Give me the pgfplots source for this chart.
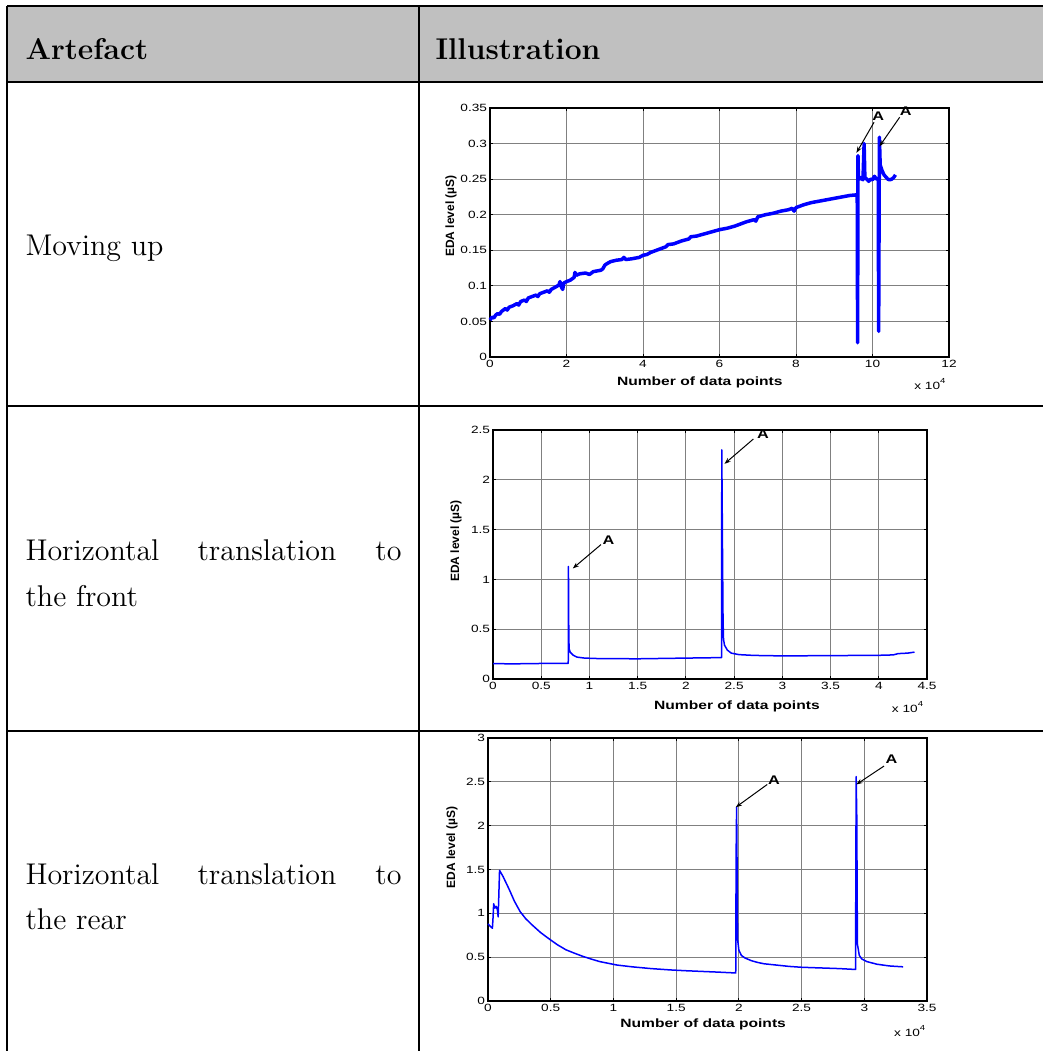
\documentclass[border=0pt]{standalone}
\usepackage{fontspec}
\usepackage{pgfplots}
\pgfplotsset{compat=1.18}
\usetikzlibrary{arrows.meta}
\newfontfamily\plotfont[FakeStretch=1.3]{Liberation Sans}
\newfontfamily\plotfontr{Liberation Sans}
\definecolor{hdr}{HTML}{C0C0C0}

\pgfplotstableread{
x y
0 0.052
0.05 0.056
0.1 0.055
0.15 0.059
0.2 0.061
0.25 0.060
0.3 0.064
0.4 0.068
0.45 0.066
0.5 0.070
0.6 0.072
0.7 0.075
0.75 0.073
0.8 0.078
0.9 0.080
0.95 0.078
1.0 0.083
1.1 0.085
1.2 0.087
1.25 0.085
1.3 0.089
1.4 0.091
1.5 0.093
1.55 0.091
1.6 0.095
1.7 0.098
1.8 0.101
1.83 0.106
1.87 0.098
1.9 0.095
1.93 0.104
2.0 0.106
2.1 0.108
2.15 0.110
2.2 0.112
2.22 0.119
2.26 0.115
2.35 0.117
2.5 0.118
2.6 0.116
2.7 0.120
2.9 0.122
2.95 0.124
3.0 0.129
3.05 0.131
3.15 0.134
3.3 0.136
3.45 0.137
3.5 0.140
3.55 0.137
3.7 0.138
3.9 0.140
4.0 0.143
4.1 0.144
4.2 0.147
4.4 0.151
4.6 0.155
4.65 0.158
4.8 0.159
5.0 0.163
5.2 0.166
5.25 0.169
5.4 0.170
5.6 0.173
5.8 0.176
6.0 0.179
6.2 0.181
6.4 0.184
6.5 0.186
6.7 0.190
6.9 0.193
6.95 0.191
7.0 0.197
7.2 0.200
7.4 0.202
7.6 0.205
7.8 0.207
7.9 0.209
7.95 0.205
8.0 0.210
8.2 0.214
8.4 0.217
8.6 0.219
8.8 0.221
9.0 0.223
9.2 0.225
9.4 0.227
9.6 0.228
9.61 0.020
9.62 0.283
9.63 0.255
9.66 0.250
9.7 0.252
9.75 0.249
9.78 0.300
9.8 0.252
9.85 0.250
9.9 0.247
9.95 0.250
10.0 0.249
10.05 0.254
10.1 0.250
10.15 0.251
10.16 0.036
10.18 0.309
10.2 0.270
10.25 0.262
10.3 0.256
10.35 0.253
10.4 0.250
10.45 0.249
10.5 0.250
10.55 0.252
10.6 0.256
}\dataA

\pgfplotstableread{
x y
0 0.155
0.2 0.152
0.4 0.155
0.6 0.157
0.78 0.158
0.782 1.13
0.786 0.40
0.79 0.30
0.8 0.27
0.83 0.24
0.87 0.22
0.95 0.21
1.1 0.205
1.5 0.203
2.0 0.21
2.37 0.215
2.372 2.30
2.378 1.50
2.38 1.22
2.385 0.60
2.39 0.40
2.40 0.34
2.43 0.29
2.47 0.26
2.55 0.245
2.7 0.237
3.0 0.232
3.5 0.235
4.0 0.238
4.15 0.242
4.2 0.255
4.3 0.26
4.37 0.27
}\dataB

\pgfplotstableread{
x y
0 0.88
0.02 0.85
0.035 0.83
0.04 0.95
0.045 1.11
0.055 1.06
0.065 1.08
0.075 1.04
0.081 0.96
0.085 1.15
0.092 1.49
0.12 1.42
0.17 1.27
0.21 1.14
0.256 1.02
0.3 0.94
0.35 0.87
0.42 0.78
0.486 0.71
0.55 0.645
0.62 0.585
0.69 0.545
0.755 0.51
0.82 0.48
0.89 0.45
0.96 0.43
1.03 0.41
1.15 0.39
1.3 0.37
1.45 0.355
1.57 0.346
1.7 0.338
1.83 0.33
1.975 0.32
1.978 1.65
1.982 2.21
1.99 0.70
2.0 0.58
2.02 0.52
2.05 0.49
2.1 0.46
2.15 0.44
2.2 0.425
2.3 0.41
2.4 0.395
2.5 0.385
2.6 0.38
2.7 0.375
2.8 0.37
2.93 0.36
2.935 2.56
2.94 2.10
2.945 0.65
2.96 0.52
2.98 0.48
3.02 0.45
3.1 0.42
3.2 0.40
3.31 0.39
}\dataC

\pgfplotsset{edastyle/.style={
  scale only axis, clip=false,
  axis line style={line width=0.6pt},
  grid=major,
  major grid style={gray, line width=0.4pt},
  tick align=inside, tick pos=both,
  major tick length=1.2pt,
  tick style={black, line width=0.4pt},
  tick label style={font=\plotfont\fontsize{4.2}{5}\selectfont, inner sep=1pt},
  /pgf/number format/assume math mode=true,
  /pgf/number format/fixed,
  scaled ticks=false,
  xlabel={Number of data points},
  ylabel={EDA level (µS)},
  xlabel style={font=\plotfont\bfseries\fontsize{4.8}{5.5}\selectfont, anchor=base, inner sep=0pt},
  ylabel style={font=\plotfontr\bfseries\fontsize{4.8}{5.5}\selectfont, anchor=center, inner sep=0pt},
}}
\newcommand{\afont}{\plotfont\bfseries\fontsize{5}{6}\selectfont}
\newcommand{\tfont}{\plotfont\fontsize{4.2}{5}\selectfont}

\begin{document}
\begin{tikzpicture}
\begin{scope}[x=0.4pt,y=-0.4pt]
\useasboundingbox (0,0) rectangle (1043,1051);
\fill[hdr] (7,6) rectangle (1043,82);
\draw[line width=0.8pt] (7,6) -- (1043,6);
\draw[line width=0.8pt] (7,82) -- (1043,82);
\draw[line width=0.5pt] (7,406) -- (1043,406);
\draw[line width=0.5pt] (7,731) -- (1043,731);
\draw[line width=0.5pt] (7,6) -- (7,1051);
\draw[line width=0.5pt] (419,6) -- (419,1051);
\node[anchor=base west, inner sep=0pt, font=\fontsize{12}{14}\selectfont\bfseries] at (25,60) {Artefact};
\node[anchor=base west, inner sep=0pt, font=\fontsize{12}{14}\selectfont\bfseries] at (435,60) {Illustration};
\node[anchor=base west, inner sep=0pt, font=\fontsize{12}{14}\selectfont] at (25,256) {Moving up};
\node[anchor=base west, inner sep=0pt, font=\fontsize{12}{14}\selectfont] at (25,560) {Horizontal};
\node[anchor=base west, inner sep=0pt, font=\fontsize{12}{14}\selectfont] at (197,560) {translation};
\node[anchor=base east, inner sep=0pt, font=\fontsize{12}{14}\selectfont] at (402,560) {to};
\node[anchor=base west, inner sep=0pt, font=\fontsize{12}{14}\selectfont] at (25,606) {the front};
\node[anchor=base west, inner sep=0pt, font=\fontsize{12}{14}\selectfont] at (25,884) {Horizontal};
\node[anchor=base west, inner sep=0pt, font=\fontsize{12}{14}\selectfont] at (197,884) {translation};
\node[anchor=base east, inner sep=0pt, font=\fontsize{12}{14}\selectfont] at (402,884) {to};
\node[anchor=base west, inner sep=0pt, font=\fontsize{12}{14}\selectfont] at (25,929) {the rear};
\end{scope}

% Plot 1
\begin{axis}[edastyle, at={(196pt,-142.8pt)}, anchor=south west,
  width=183.6pt, height=99.6pt,
  xmin=0, xmax=12, ymin=0, ymax=0.35,
  xtick={0,2,4,6,8,10,12},
  ytick={0,0.05,0.1,0.15,0.2,0.25,0.3,0.35},
  xlabel style={at={(axis description cs:0.457,0)}, yshift=-11.4pt},
  ylabel style={at={(axis description cs:-0.085,0.566)}},
]
\addplot[blue, line width=1.4pt, line join=round] table[x=x,y=y] {\dataA};
\draw[-{Stealth[length=2.5pt,width=1.8pt]}, line width=0.4pt] (axis cs:10.04,0.330) -- (axis cs:9.58,0.287);
\draw[-{Stealth[length=2.5pt,width=1.8pt]}, line width=0.4pt] (axis cs:10.71,0.337) -- (axis cs:10.18,0.296);
\node[font=\afont, inner sep=0pt] at (axis cs:10.15,0.339) {A};
\node[font=\afont, inner sep=0pt] at (axis cs:10.87,0.345) {A};
\node[font=\tfont, anchor=base east, inner sep=0pt, yshift=-12.8pt] at (rel axis cs:0.996,0) {x 10\textsuperscript{4}};
\end{axis}

% Plot 2
\begin{axis}[edastyle, at={(197.2pt,-271.6pt)}, anchor=south west,
  width=173.6pt, height=99.6pt,
  xmin=0, xmax=4.5, ymin=0, ymax=2.5,
  xtick={0,0.5,1,1.5,2,2.5,3,3.5,4,4.5},
  ytick={0,0.5,1,1.5,2,2.5},
  xlabel style={at={(axis description cs:0.562,0)}, yshift=-12pt},
  ylabel style={at={(axis description cs:-0.085,0.554)}},
]
\addplot[blue, line width=0.6pt, line join=round] table[x=x,y=y] {\dataB};
\draw[-{Stealth[length=2.5pt,width=1.8pt]}, line width=0.4pt] (axis cs:1.12,1.35) -- (axis cs:0.827,1.11);
\draw[-{Stealth[length=2.5pt,width=1.8pt]}, line width=0.4pt] (axis cs:2.70,2.41) -- (axis cs:2.40,2.16);
\node[font=\afont, inner sep=0pt] at (axis cs:1.197,1.39) {A};
\node[font=\afont, inner sep=0pt] at (axis cs:2.80,2.456) {A};
\node[font=\tfont, anchor=base east, inner sep=0pt, yshift=-13.2pt] at (rel axis cs:0.995,0) {x 10\textsuperscript{4}};
\end{axis}

% Plot 3
\begin{axis}[edastyle, at={(195.2pt,-400.4pt)}, anchor=south west,
  width=175.6pt, height=105.2pt,
  xmin=0, xmax=3.5, ymin=0, ymax=3,
  xtick={0,0.5,1,1.5,2,2.5,3,3.5},
  ytick={0,0.5,1,1.5,2,2.5,3},
  xlabel style={at={(axis description cs:0.49,0)}, yshift=-10.4pt},
  ylabel style={at={(axis description cs:-0.082,0.584)}},
]
\addplot[blue, line width=0.6pt, line join=round] table[x=x,y=y] {\dataC};
\draw[-{Stealth[length=2.5pt,width=1.8pt]}, line width=0.4pt] (axis cs:2.226,2.47) -- (axis cs:1.975,2.21);
\draw[-{Stealth[length=2.5pt,width=1.8pt]}, line width=0.4pt] (axis cs:3.157,2.68) -- (axis cs:2.936,2.47);
\node[font=\afont, inner sep=0pt] at (axis cs:2.28,2.515) {A};
\node[font=\afont, inner sep=0pt] at (axis cs:3.216,2.758) {A};
\node[font=\tfont, anchor=base east, inner sep=0pt, yshift=-14pt] at (rel axis cs:1.0,0) {x 10\textsuperscript{4}};
\end{axis}
\end{tikzpicture}
\end{document}
